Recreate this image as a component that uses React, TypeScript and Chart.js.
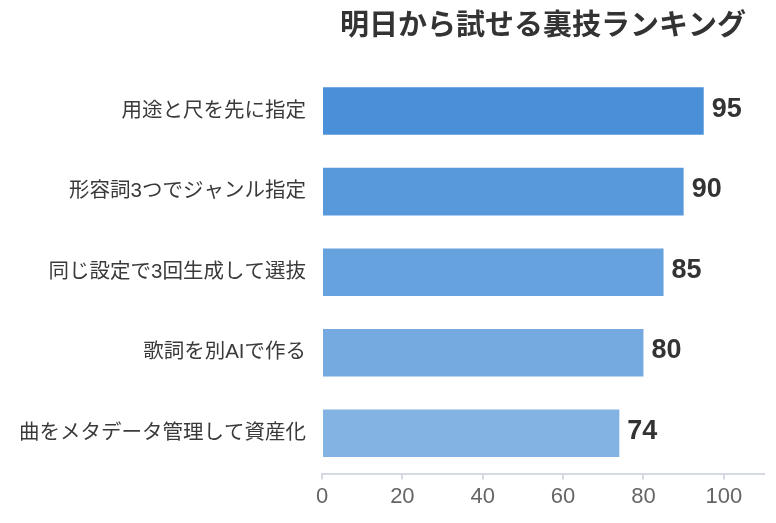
import React, { useEffect, useRef } from "react";
import { Chart, registerables } from "chart.js";

Chart.register(...registerables);

const titleText = "明日から試せる裏技ランキング";
const categories = [
  "用途と尺を先に指定",
  "形容詞3つでジャンル指定",
  "同じ設定で3回生成して選抜",
  "歌詞を別AIで作る",
  "曲をメタデータ管理して資産化",
];
const scores = [95, 90, 85, 80, 74];
const barColors = ["#4A90D9", "#5899DB", "#66A2DE", "#74AAE0", "#82B3E3"];
const xTicks = [0, 20, 40, 60, 80, 100];

const FONT = "'Liberation Sans', 'Noto Sans CJK JP', sans-serif";

// Writes each bar's value just past its right end
const valueLabels = {
  id: "valueLabels",
  afterDatasetsDraw(chart: any) {
    const { ctx } = chart;
    const meta = chart.getDatasetMeta(0);
    const values = chart.data.datasets[0].data as number[];
    ctx.save();
    ctx.font = `bold 27px ${FONT}`;
    ctx.fillStyle = "#333333";
    ctx.textAlign = "left";
    ctx.textBaseline = "middle";
    meta.data.forEach((bar: any, i: number) => {
      ctx.fillText(String(values[i]), bar.x + 8, bar.y - 2);
    });
    ctx.restore();
  },
};

export default function App() {
  const canvasRef = useRef<HTMLCanvasElement | null>(null);

  useEffect(() => {
    if (!canvasRef.current) return;
    const chart = new Chart(canvasRef.current, {
      type: "bar",
      data: {
        labels: categories,
        datasets: [
          {
            data: scores,
            backgroundColor: barColors,
            borderWidth: 0,
            categoryPercentage: 0.59,
            barPercentage: 1,
          },
        ],
      },
      options: {
        indexAxis: "y",
        animation: false,
        responsive: false,
        maintainAspectRatio: false,
        layout: { padding: { top: 2, right: 4, bottom: 1, left: 0 } },
        plugins: {
          legend: { display: false },
          tooltip: { enabled: false },
          title: {
            display: true,
            text: titleText,
            fullSize: false,
            color: "#333333",
            font: { family: FONT, size: 29, weight: "bold" },
            padding: { top: 0, bottom: 26 },
          },
        },
        scales: {
          x: {
            min: 0,
            max: 110,
            afterBuildTicks: (scale: any) => {
              scale.ticks = xTicks.map((v) => ({ value: v }));
            },
            grid: {
              drawOnChartArea: false,
              drawTicks: true,
              tickLength: 6,
              color: "#D5D9E2",
              lineWidth: 2,
            },
            border: { display: true, color: "#D5D9E2", width: 2 },
            ticks: {
              color: "#666666",
              padding: 4,
              font: { family: FONT, size: 22 },
            },
          },
          y: {
            afterFit: (scale: any) => {
              scale.width = 314;
            },
            grid: { display: false, drawTicks: false },
            border: { display: false },
            ticks: {
              color: "#3A3A3A",
              padding: 16,
              font: { family: FONT, size: 20.5 },
            },
          },
        },
      },
      plugins: [valueLabels],
    });
    return () => chart.destroy();
  }, []);

  return (
    <div style={{ width: 760, height: 507 }}>
      <canvas ref={canvasRef} width={760} height={507} />
    </div>
  );
}
